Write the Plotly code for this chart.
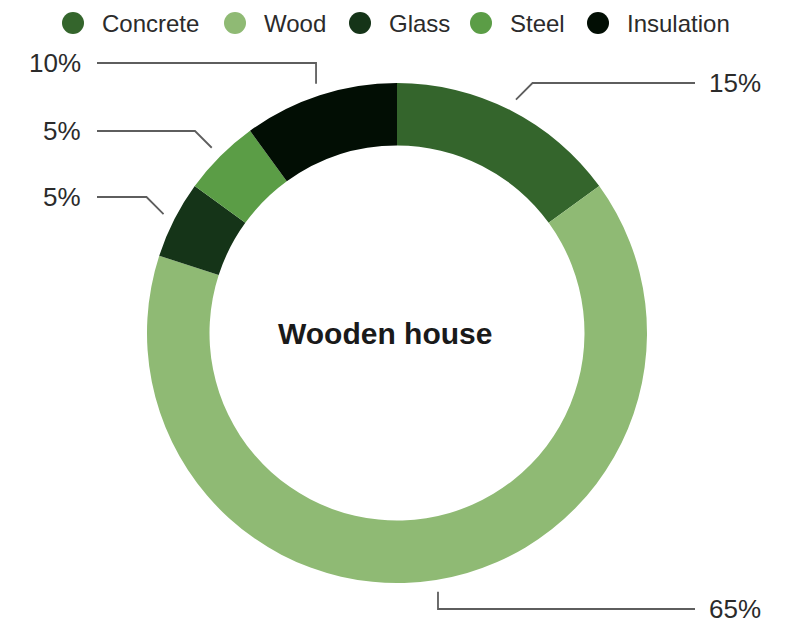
import math
import plotly.graph_objects as go

# Material mix of a wooden house (percent of total)
materials = ["Concrete", "Wood", "Glass", "Steel", "Insulation"]
shares = [15, 65, 5, 5, 10]
colors = ["#34652c", "#8fba74", "#153418", "#5b9d46", "#020e04"]
center_label = "Wooden house"

# Layout (pixels)
W, H = 792, 626
CX, CY = 397, 333          # donut centre
R_OUT = 250                # outer radius
HOLE = 0.75
LEADER_R = 262             # where leader lines start
label_rows = [83, 609, 197, 131, 63]   # y of each value label
LEFT_TEXT_X, LEFT_LINE_X = 83, 97
RIGHT_TEXT_X, RIGHT_LINE_X = 707, 695
legend_x = [73, 235, 360, 481, 598]    # legend dot centres
LEGEND_Y = 23
FONT = "Liberation Sans, Arial, Helvetica, sans-serif"
TEXT_COLOR = "#2b2b2b"
LINE_COLOR = "#5e5e5e"

fig = go.Figure()

fig.add_trace(go.Pie(
    labels=materials,
    values=shares,
    marker=dict(colors=colors, line=dict(width=0)),
    hole=HOLE,
    sort=False,
    direction="clockwise",
    rotation=0,
    textinfo="none",
    hoverinfo="label+percent",
    showlegend=False,
    domain=dict(
        x=[(CX - R_OUT) / W, (CX + R_OUT) / W],
        y=[1 - (CY + R_OUT) / H, 1 - (CY - R_OUT) / H],
    ),
))

# Leader lines and value labels, derived from each slice's mid angle
total = sum(shares)
cum = 0
annotations = []
for value, row in zip(shares, label_rows):
    theta = 2 * math.pi * (cum + value / 2) / total
    cum += value
    s, c = math.sin(theta), math.cos(theta)
    x0 = CX + LEADER_R * s
    y0 = CY - LEADER_R * c
    side = 1 if s > 0 else -1
    if abs(s) < 0.4:
        xe = x0
    else:
        xe = x0 + side * abs(y0 - row)
    x_end = RIGHT_LINE_X if side > 0 else LEFT_LINE_X
    fig.add_trace(go.Scatter(
        x=[x0, xe, x_end], y=[y0, row, row],
        mode="lines", line=dict(color=LINE_COLOR, width=1.8),
        hoverinfo="skip", showlegend=False,
    ))
    annotations.append(dict(
        x=RIGHT_TEXT_X if side > 0 else LEFT_TEXT_X, y=row,
        xref="x", yref="y",
        text=f"{value}%", showarrow=False,
        xanchor="left" if side > 0 else "right", yanchor="middle",
        font=dict(family=FONT, size=26, color=TEXT_COLOR),
    ))

# Legend row: coloured dots with names
fig.add_trace(go.Scatter(
    x=legend_x, y=[LEGEND_Y] * len(legend_x),
    mode="markers",
    marker=dict(size=22, color=colors, symbol="circle"),
    hoverinfo="skip", showlegend=False,
))
for name, lx in zip(materials, legend_x):
    annotations.append(dict(
        x=lx + 27, y=LEGEND_Y, xref="x", yref="y",
        text=name, showarrow=False, xanchor="left", yanchor="middle",
        font=dict(family=FONT, size=24, color=TEXT_COLOR),
    ))

annotations.append(dict(
    x=CX, y=CY, xref="x", yref="y", xshift=-12,
    text=center_label, showarrow=False, xanchor="center", yanchor="middle",
    font=dict(family=FONT, size=30, color="#1a1a1a", weight=700),
))

fig.update_layout(
    width=W, height=H,
    margin=dict(l=0, r=0, t=0, b=0),
    paper_bgcolor="white", plot_bgcolor="white",
    xaxis=dict(range=[0, W], visible=False, fixedrange=True),
    yaxis=dict(range=[H, 0], visible=False, fixedrange=True),
    annotations=annotations,
    showlegend=False,
)

fig.write_html("out.html")
